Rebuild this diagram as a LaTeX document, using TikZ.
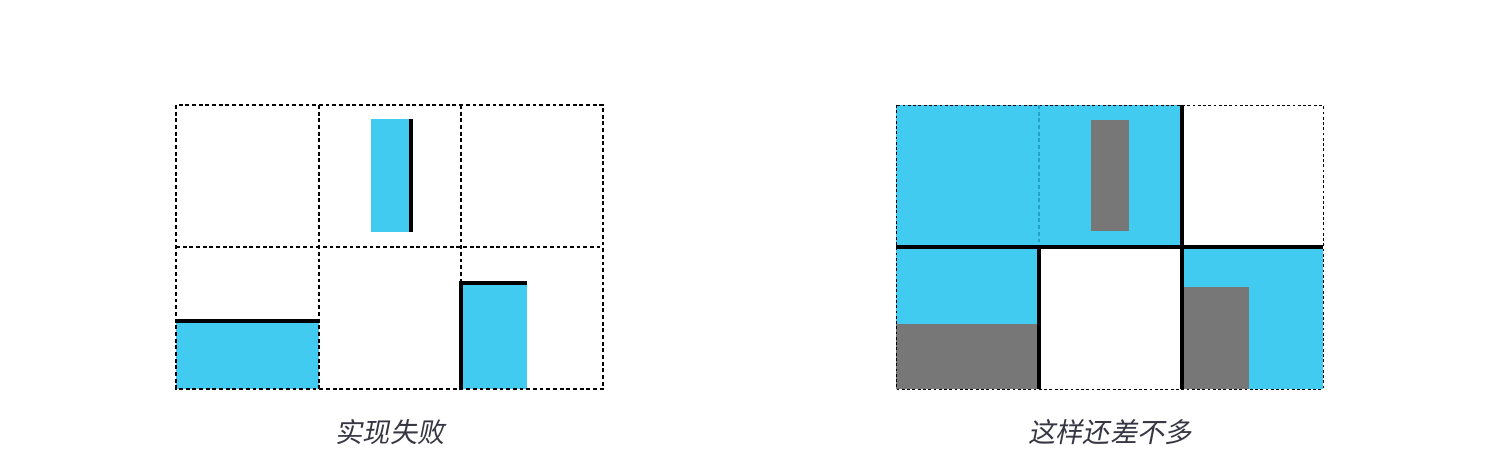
\documentclass[tikz,border=0pt]{standalone}
\usepackage{fontspec}
\usepackage{tikz}
\newfontfamily\cjk[FakeSlant=0.2]{Noto Sans CJK SC}
\definecolor{cellblue}{RGB}{66,203,241}
\definecolor{block}{RGB}{119,119,119}
\definecolor{captext}{RGB}{55,55,68}
\definecolor{seam}{RGB}{36,160,205}

\begin{document}
\begin{tikzpicture}[x=0.02cm, y=-0.02cm,
   grid/.style={draw=black, line width=0.8pt, dash pattern=on 2.2pt off 1.6pt},
   wall/.style={draw=black, line width=2.3pt},
   caption/.style={text=captext, font=\cjk\fontsize{15.5}{18}\selectfont}]
  \useasboundingbox (0,0) rectangle (1499,473);

  % left: fails
  \fill[cellblue] (371,119) rectangle (411,232);
  \fill[cellblue] (176,321) rectangle (319,389);
  \fill[cellblue] (461,283) rectangle (527,389);
  \draw[grid] (176,105) rectangle (603,389);
  \foreach \x in {319,461}
    \draw[grid] (\x,105) -- (\x,389);
  \draw[grid] (176,247) -- (603,247);
  \draw[wall] (411,119) -- (411,232);
  \draw[wall] (176,321) -- (319,321);
  \draw[wall] (461,389) -- (461,283) -- (527,283);
  \node[caption] (failcap) at (390,432) {实现失败};

  % right: works
  \fill[cellblue] (896,105) rectangle (1182,247);
  \fill[cellblue] (896,247) rectangle (1039,389);
  \fill[cellblue] (1182,247) rectangle (1323,389);
  \fill[block] (1091,120) rectangle (1129,231);
  \fill[block] (896,324) rectangle (1039,389);
  \fill[block] (1182,287) rectangle (1249,389);
  \draw[seam, line width=0.6pt, dash pattern=on 2.2pt off 1.6pt] (1039,105) -- (1039,247);
  \draw[grid, line width=0.55pt, dash pattern=on 1.6pt off 1.4pt] (896,105) rectangle (1323,389);
  \draw[wall] (896,247) -- (1323,247);
  \draw[wall] (1182,105) -- (1182,389);
  \draw[wall] (1039,247) -- (1039,389);
  \node[caption] (okcap) at (1110,432) {这样还差不多};
\end{tikzpicture}
\end{document}
